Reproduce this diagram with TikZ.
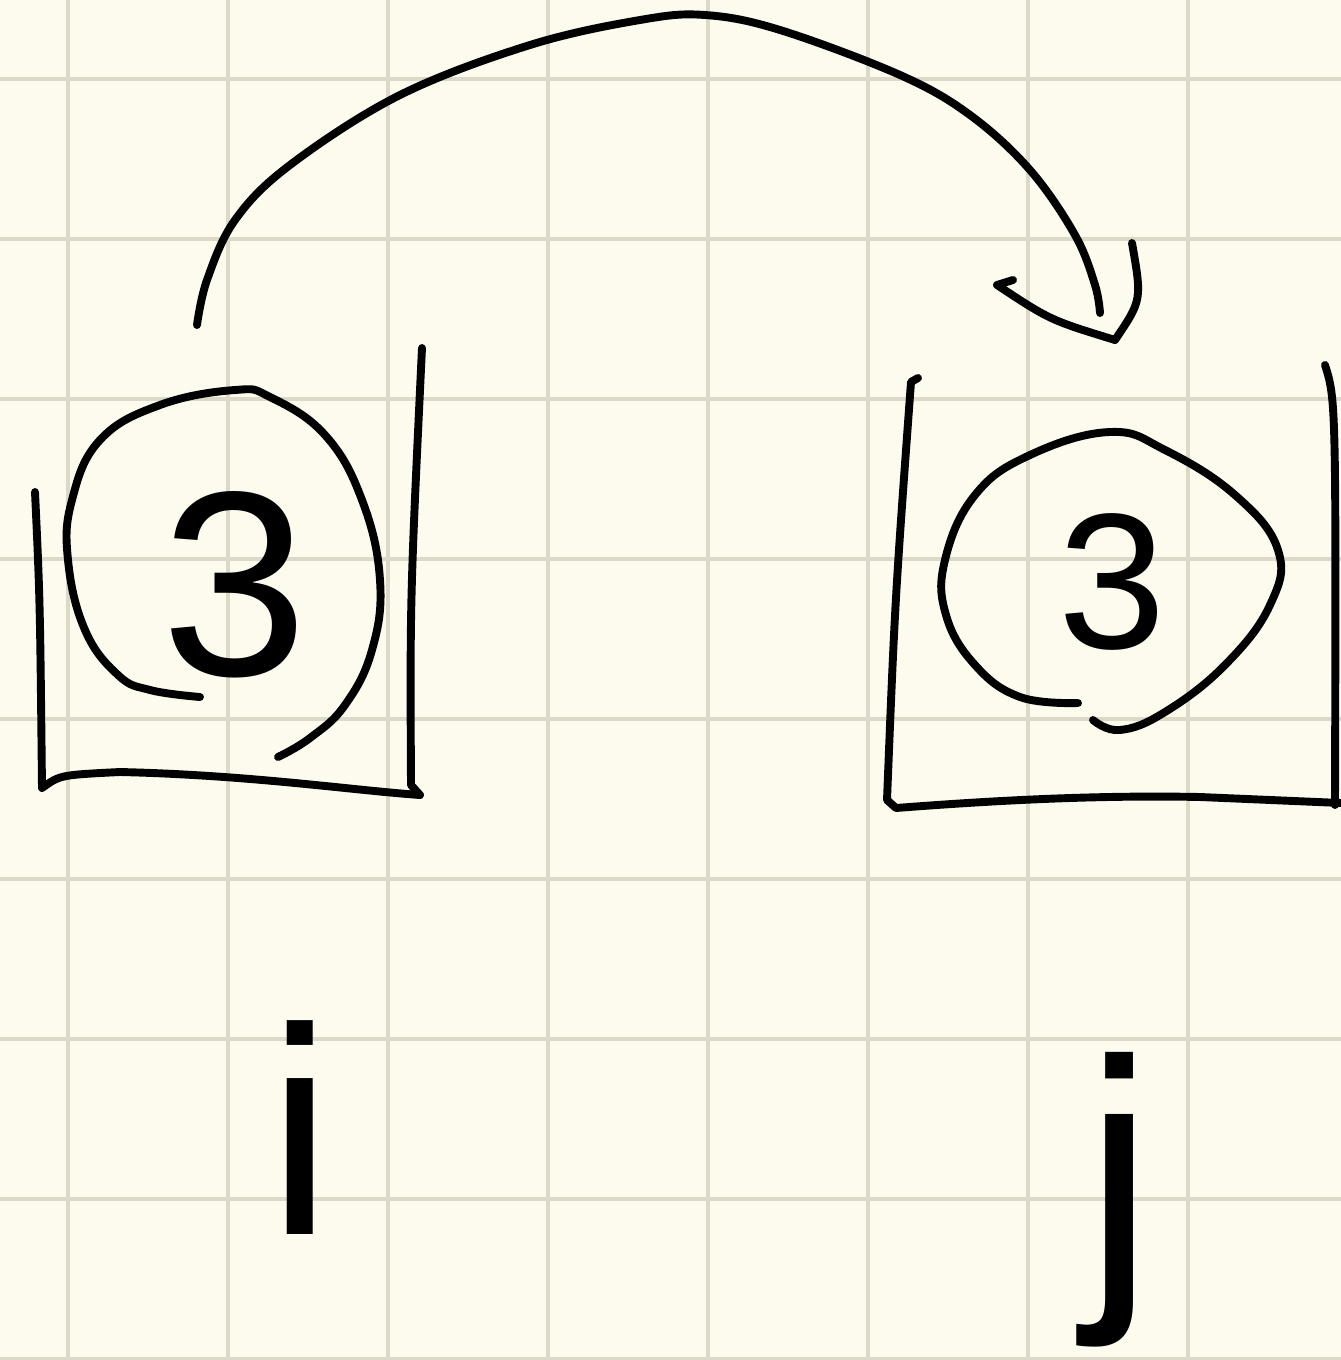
\documentclass[tikz,border=0pt]{standalone}
\usepackage{fontspec}
\setmainfont{Liberation Sans}
\definecolor{paper}{RGB}{253,251,237}
\definecolor{gridc}{RGB}{220,217,200}
\tikzset{
  ink/.style={line width=4.5pt, line cap=round, line join=round, black},
  gridline/.style={line width=1.8pt, gridc},
  digit/.style={inner sep=0pt, font=\fontsize{150}{150}\selectfont},
  sdigit/.style={inner sep=0pt, font=\fontsize{110}{110}\selectfont},
  letter/.style={inner sep=0pt},
}
\begin{document}
\begin{tikzpicture}[x=0.02cm, y=-0.02cm]
\useasboundingbox (0,0) rectangle (1341,1360);
\fill[paper] (0,0) rectangle (1341,1360);
% grid
\foreach \gx in {68,228,...,1188} \draw[gridline] (\gx,0) -- (\gx,1360);
\foreach \gy in {79,239,...,1359} \draw[gridline] (0,\gy) -- (1341,\gy);

% left bracket
\draw[ink] (35,492) .. controls (40,600) .. (42,788) .. controls (60,775) .. (120,772) .. controls (250,775) and (350,790) .. (420,795);
\draw[ink] (420,795) -- (411,785) .. controls (410,600) .. (422,348);
% right bracket
\draw[ink] (918,378) -- (911,382) .. controls (895,600) .. (887,800) -- (896,808) .. controls (1000,800) and (1100,795) .. (1200,797) -- (1341,803);
\draw[ink] (1325,365) .. controls (1336,400) .. (1335,805);

% left circle
\draw[ink] plot[smooth, tension=0.7] coordinates {(200,697) (150,690) (118,675) (85,630) (68,560) (72,500) (100,440) (160,405) (235,390) (270,397) (325,435) (362,500) (380,580) (372,650) (345,705) (310,738) (278,757)};
% right circle
\draw[ink] plot[smooth, tension=0.7] coordinates {(1078,703) (1020,697) (975,665) (946,615) (945,560) (975,495) (1030,455) (1110,432) (1165,450) (1235,495) (1278,550) (1270,605) (1225,665) (1165,712) (1120,730) (1093,720)};

% digits
\node[digit] (three1) at (235,585) {3};
\node[sdigit] (three2) at (1112,582) {3};

% arc arrow
\coordinate (start) at (197,325);
\coordinate (tip) at (1115,340);
\draw[ink] plot[smooth, tension=0.6] coordinates {(197,325) (207,280) (235,220) (290,165) (400,95) (530,45) (640,20) (705,15) (780,30) (900,75) (970,115) (1030,170) (1075,235) (1095,285) (1100,313)};
\draw[ink] (1013,280) -- (997,285) .. controls (1050,320) .. (tip) .. controls (1142,300) .. (1132,243);

% labels
\node[letter, font=\fontsize{168}{168}\selectfont] (ilabel) at (300,1128) {i};
\node[letter, font=\fontsize{180}{180}\selectfont] (jlabel) at (1120,1200) {j};
\end{tikzpicture}
\end{document}
